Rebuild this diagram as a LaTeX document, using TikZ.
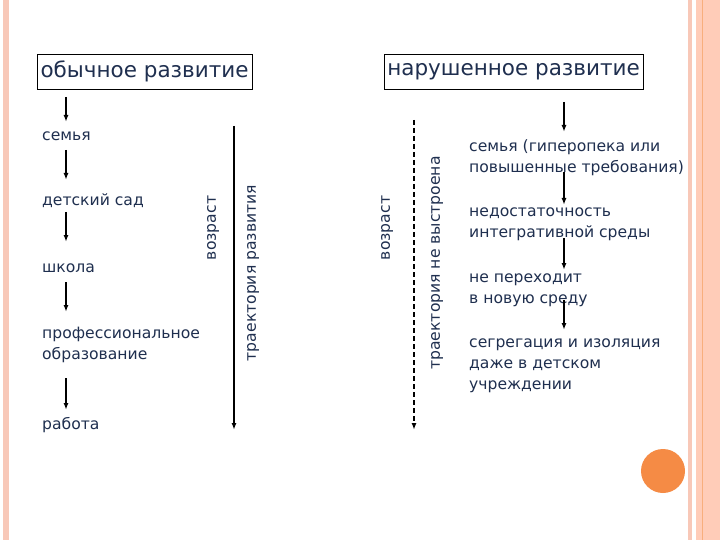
\documentclass[tikz,border=0pt]{standalone}
\usepackage{fontspec}
\usetikzlibrary{arrows.meta}
\setmainfont{DejaVu Sans}
\definecolor{tx}{HTML}{1F2F4F}
\definecolor{band}{HTML}{F8C8B8}
\definecolor{bandd}{HTML}{FFCCB8}
\definecolor{orng}{HTML}{F58B45}
\begin{document}
\begin{tikzpicture}[x=1pt,y=-1pt,
  lbl/.style={text=tx,font=\fontsize{15.6}{21}\selectfont,anchor=west,align=left,inner sep=0pt},
  ttl/.style={text=tx,font=\fontsize{21.5}{24}\selectfont,draw=black,line width=0.8pt,inner sep=0pt,minimum height=35pt},
  rot/.style={text=tx,font=\fontsize{15.6}{18}\selectfont,rotate=90,inner sep=0pt},
  arr/.style={-{Latex[length=7pt,width=5pt]},line width=1.4pt}]
\useasboundingbox (0,0) rectangle (720,540);
\fill[white] (0,0) rectangle (720,540);
\fill[band] (3,0) rectangle (9,540);
\fill[band] (688,0) rectangle (692,540);
\fill[bandd] (696,0) rectangle (720,540);
\draw[orng!70,line width=0.8pt] (702,0) -- (702,540);
\node[ttl,minimum width=215pt] (t1) at (144.5,71.5) {обычное развитие};
\node[ttl,minimum width=259pt] (t2) at (513.5,71.5) {нарушенное развитие};
\node[lbl] (a1) at (42,136) {семья};
\node[lbl] (a2) at (42,201) {детский сад};
\node[lbl] (a3) at (42,268) {школа};
\node[lbl] (a4) at (42,345) {профессиональное\\образование};
\node[lbl] (a5) at (42,425) {работа};
\coordinate (c0) at (66,97);
\coordinate (c0e) at (66,122);
\draw[arr] (c0) -- (c0e);
\coordinate (p1) at (66,150); \coordinate (q1) at (66,180); \draw[arr] (p1) -- (q1);
\coordinate (p2) at (66,212); \coordinate (q2) at (66,242); \draw[arr] (p2) -- (q2);
\coordinate (p3) at (66,282); \coordinate (q3) at (66,312); \draw[arr] (p3) -- (q3);
\coordinate (p4) at (66,378); \coordinate (q4) at (66,410); \draw[arr] (p4) -- (q4);
\coordinate (L1) at (234,126); \coordinate (L2) at (234,430); \draw[arr] (L1) -- (L2);
\node[rot] (v1) at (213,228) {возраст};
\node[rot] (tr1) at (253,273) {траектория развития};
\coordinate (R1) at (414,120); \coordinate (R2) at (414,430); \draw[arr,dash pattern=on 5pt off 3pt] (R1) -- (R2);
\node[rot] (v2) at (387,228) {возраст};
\node[rot] (tr2) at (437,263) {траектория не выстроена};
\node[lbl] (b1) at (469,158) {семья (гиперопека или\\повышенные требования)};
\node[lbl] (b2) at (469,224) {недостаточность\\интегративной среды};
\node[lbl] (b3) at (469,290) {не переходит\\в новую среду};
\node[lbl] (b4) at (469,366) {сегрегация и изоляция\\даже в  детском\\учреждении};
\coordinate (s1) at (564,102); \coordinate (e1) at (564,132); \draw[arr] (s1) -- (e1);
\coordinate (s2) at (564,172); \coordinate (e2) at (564,205); \draw[arr] (s2) -- (e2);
\coordinate (s3) at (564,238); \coordinate (e3) at (564,270); \draw[arr] (s3) -- (e3);
\coordinate (s4) at (564,300); \coordinate (e4) at (564,330); \draw[arr] (s4) -- (e4);
\fill[orng] (663,471) circle (22);
\end{tikzpicture}
\end{document}
